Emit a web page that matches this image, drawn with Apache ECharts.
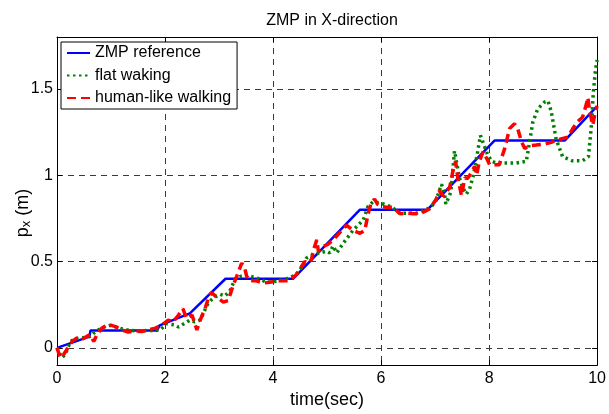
<!DOCTYPE html>
<html>
<head>
<meta charset="utf-8">
<title>ZMP in X-direction</title>
<script src="https://cdn.jsdelivr.net/npm/echarts@6/dist/echarts.min.js"></script>
<style>
    html, body {margin: 0; padding: 0; background: #fff;}
    #main {width: 609px; height: 414px;}
</style>
</head>
<body>
<div id="main"></div>
<script>
'use strict';

//参考ZMP
let refT = [0, 0.6, 0.62, 1.85, 1.9, 2.46, 3.12, 4.37, 5.61, 6.86, 8.1, 9.4, 10];
let refV = [0, 0.065, 0.1, 0.1, 0.13, 0.2, 0.4, 0.4, 0.8, 0.8, 1.2, 1.2, 1.4];

//flat waking
let flatT = [0, 0.09, 0.15, 0.25, 0.33, 0.43, 0.52, 0.61, 0.71, 0.8, 0.9, 0.98, 1.1, 1.2, 1.29, 1.4, 1.53, 1.65, 1.81, 1.91,
    2.03, 2.19, 2.25, 2.35, 2.46, 2.55, 2.65, 2.71, 2.8, 2.9, 3.02, 3.11, 3.2, 3.3, 3.42, 3.54, 3.73, 3.88, 4.07, 4.25,
    4.4, 4.5, 4.62, 4.75, 4.87, 4.99, 5.05, 5.11, 5.18, 5.3, 5.48, 5.67, 5.76, 5.85, 6.04, 6.2, 6.35, 6.5, 6.66, 6.9,
    7.0, 7.12, 7.18, 7.2, 7.29, 7.36, 7.45, 7.51, 7.58, 7.64, 7.71, 7.78, 7.84, 7.91, 7.97, 8.05, 8.13, 8.26, 8.5, 8.69,
    8.75, 8.81, 8.9, 9.03, 9.09, 9.15, 9.24, 9.36, 9.54, 9.73, 9.84, 9.89, 9.93, 9.97, 10];
let flatV = [0, -0.057, -0.04, 0.037, 0.05, 0.057, 0.06, 0.066, 0.094, 0.11, 0.125, 0.13, 0.12, 0.11, 0.104, 0.1, 0.095, 0.1, 0.1, 0.104,
    0.14, 0.132, 0.12, 0.14, 0.16, 0.15, 0.16, 0.2, 0.26, 0.29, 0.31, 0.3, 0.33, 0.4, 0.416, 0.42, 0.4, 0.38, 0.385, 0.4,
    0.42, 0.45, 0.52, 0.54, 0.55, 0.56, 0.55, 0.59, 0.55, 0.606, 0.68, 0.74, 0.82, 0.845, 0.833, 0.815, 0.78, 0.78, 0.78, 0.81,
    0.84, 0.947, 0.88, 0.833, 0.9, 1.14, 0.985, 0.93, 0.89, 0.92, 1.0, 1.12, 1.23, 1.17, 1.12, 1.08, 1.07, 1.07, 1.07, 1.08,
    1.193, 1.307, 1.383, 1.424, 1.43, 1.37, 1.21, 1.108, 1.083, 1.083, 1.108, 1.27, 1.477, 1.61, 1.667];

//human-like walking
let humanT = [0, 0.06, 0.12, 0.18, 0.28, 0.37, 0.46, 0.55, 0.62, 0.68, 0.74, 0.83, 0.95, 1.08, 1.2, 1.32, 1.45, 1.57, 1.69, 1.82,
    1.94, 2.06, 2.15, 2.25, 2.33, 2.4, 2.5, 2.59, 2.65, 2.74, 2.8, 2.86, 2.96, 3.08, 3.17, 3.26, 3.36, 3.42, 3.47, 3.51,
    3.57, 3.69, 3.82, 3.94, 4.07, 4.19, 4.28, 4.37, 4.47, 4.53, 4.59, 4.65, 4.71, 4.76, 4.81, 4.84, 4.93, 5.02, 5.11, 5.17,
    5.27, 5.36, 5.48, 5.61, 5.7, 5.76, 5.82, 5.88, 5.94, 6.0, 6.1, 6.22, 6.35, 6.47, 6.6, 6.72, 6.81, 6.9, 7.02, 7.08,
    7.15, 7.27, 7.33, 7.38, 7.42, 7.49, 7.55, 7.6, 7.67, 7.73, 7.77, 7.82, 7.89, 7.95, 8.01, 8.07, 8.19, 8.29, 8.38, 8.47,
    8.53, 8.6, 8.66, 8.75, 8.87, 9.03, 9.15, 9.24, 9.33, 9.46, 9.55, 9.64, 9.73, 9.8, 9.83, 9.86, 9.92, 9.95, 10];
let humanV = [0, -0.057, -0.04, -0.01, 0.037, 0.057, 0.048, 0.066, 0.076, 0.037, 0.076, 0.114, 0.136, 0.123, 0.104, 0.091, 0.099, 0.095, 0.104, 0.114,
    0.132, 0.16, 0.15, 0.19, 0.227, 0.17, 0.19, 0.104, 0.16, 0.227, 0.284, 0.32, 0.293, 0.265, 0.274, 0.36, 0.44, 0.49, 0.47, 0.416,
    0.388, 0.388, 0.375, 0.38, 0.388, 0.388, 0.388, 0.407, 0.435, 0.473, 0.5, 0.49, 0.511, 0.577, 0.625, 0.558, 0.587, 0.6, 0.625, 0.644,
    0.68, 0.71, 0.68, 0.663, 0.68, 0.776, 0.843, 0.861, 0.83, 0.82, 0.814, 0.814, 0.776, 0.78, 0.776, 0.776, 0.79, 0.805, 0.861, 0.909,
    0.88, 0.928, 1.023, 1.08, 0.985, 0.88, 0.985, 0.98, 1.013, 1.05, 1.0, 1.08, 1.136, 1.1, 1.06, 1.06, 1.06, 1.155, 1.27, 1.297,
    1.27, 1.193, 1.155, 1.17, 1.174, 1.18, 1.19, 1.2, 1.21, 1.22, 1.27, 1.31, 1.335, 1.41, 1.45, 1.37, 1.29, 1.34, 1.4];

function pairs(ts, vs) {
    return ts.map(function (t, i) {
        return [t, vs[i]];
    });
}

let font = 'Arial, "Liberation Sans", sans-serif';
let gridLine = {show: true, lineStyle: {color: '#3a3a3a', width: 1, type: [6, 5]}};
let boxLine = {show: true, onZero: false, lineStyle: {color: '#000', width: 1}};
let tickIn = {show: true, inside: true, length: 5, lineStyle: {color: '#000'}};

let myChart = echarts.init(document.getElementById('main'), null, {renderer: 'canvas'});

let option = {
    animation: false,
    backgroundColor: '#fff',
    textStyle: {fontFamily: font},
    title: {
        text: 'ZMP in X-direction',
        left: 327,
        top: 8,
        textAlign: 'center',
        textStyle: {fontSize: 16, fontWeight: 'normal', color: '#000', fontFamily: font}
    },
    grid: {left: 57, right: 11, top: 37, bottom: 43},
    legend: {
        left: 61,
        top: 42,
        orient: 'vertical',
        backgroundColor: '#fff',
        borderColor: '#000',
        borderWidth: 1,
        borderRadius: 0,
        padding: [3, 6, 3, 5],
        itemWidth: 23,
        itemHeight: 14,
        itemGap: 6.5,
        itemStyle: {opacity: 0},
        textStyle: {fontSize: 16, color: '#000', fontFamily: font},
        data: ['ZMP reference', 'flat waking', 'human-like walking']
    },
    xAxis: [{
        type: 'value',
        min: 0,
        max: 10,
        interval: 2,
        axisLine: boxLine,
        axisTick: tickIn,
        axisLabel: {fontSize: 16, color: '#000', margin: 5, fontFamily: font},
        splitLine: gridLine,
        name: 'time(sec)',
        nameLocation: 'middle',
        nameGap: 22,
        nameTextStyle: {fontSize: 18, color: '#000', fontFamily: font}
    }, {
        type: 'value',
        position: 'top',
        min: 0,
        max: 10,
        interval: 2,
        axisLine: boxLine,
        axisTick: tickIn,
        axisLabel: {show: false},
        splitLine: {show: false}
    }],
    yAxis: [{
        type: 'value',
        min: -0.1,
        max: 1.8,
        splitNumber: 4,
        axisLine: boxLine,
        axisTick: tickIn,
        axisLabel: {fontSize: 16, color: '#000', margin: 4, showMinLabel: false, showMaxLabel: false, fontFamily: font},
        splitLine: gridLine
    }, {
        type: 'value',
        position: 'right',
        min: -0.1,
        max: 1.8,
        splitNumber: 4,
        axisLine: boxLine,
        axisTick: tickIn,
        axisLabel: {show: false},
        splitLine: {show: false}
    }],
    graphic: [{
        type: 'text',
        x: 23,
        y: 213,
        rotation: Math.PI / 2,
        style: {
            text: '{a|p}{b|x}{a| (m)}',
            align: 'center',
            verticalAlign: 'middle',
            rich: {
                a: {fontSize: 18, lineHeight: 20, fill: '#000', fontFamily: font},
                b: {fontSize: 13, lineHeight: 2, verticalAlign: 'bottom', fill: '#000', fontFamily: font}
            }
        }
    }],
    series: [{
        name: 'ZMP reference',
        type: 'line',
        data: pairs(refT, refV),
        symbol: 'none',
        color: '#0000ff',
        lineStyle: {color: '#0000ff', width: 2.5},
        z: 2
    }, {
        name: 'flat waking',
        type: 'line',
        data: pairs(flatT, flatV),
        symbol: 'none',
        color: '#008000',
        lineStyle: {color: '#008000', width: 3.5, type: [2.5, 3.5]},
        z: 3
    }, {
        name: 'human-like walking',
        type: 'line',
        data: pairs(humanT, humanV),
        symbol: 'none',
        color: '#ff0000',
        lineStyle: {color: '#ff0000', width: 3.5, type: [9, 5]},
        z: 4
    }]
};
myChart.setOption(option);
</script>
</body>
</html>
